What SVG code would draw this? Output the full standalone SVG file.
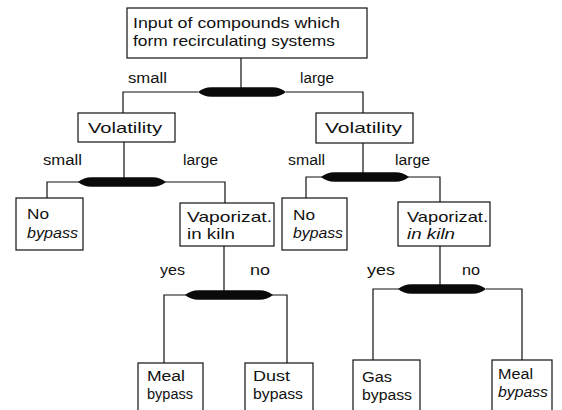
<svg xmlns="http://www.w3.org/2000/svg" width="562" height="410" viewBox="0 0 562 410">
<style>
.box{fill:#fff;stroke:#111;stroke-width:1.2}
.ln{fill:none;stroke:#111;stroke-width:1.2}
text{font-family:"Liberation Sans",Arial,sans-serif;font-size:15px;fill:#111}
.lab{font-size:14px}
.sm{font-size:14px}
.it{font-style:italic}
</style>
<defs>
<path id="bar" d="M-44,0 Q-38,-5 -30,-4.8 L30,-4.8 Q38,-5 44,0 Q38,5 30,4.8 L-30,4.8 Q-38,5 -44,0 Z" fill="#0a0a0a"/>
</defs>
<rect width="562" height="410" fill="#fff"/>
<g id="connectors">
<path class="ln" d="M241,58 V92 M198,92 H123 V113 M286,92 H363 V113"/>
<path class="ln" d="M124,142 V182 M80,182 H47 V198 M164,182 H225 V203"/>
<path class="ln" d="M363,143 V177 M322,177 H306 V198 M408,177 H440 V202"/>
<path class="ln" d="M224,246 V295 M186,295 H164 V363 M272,295 H287 V363"/>
<path class="ln" d="M440,246 V289 M399,289 H373 V360 M486,289 H522 V360"/>
<use href="#bar" x="242" y="92"/>
<use href="#bar" x="122" y="182"/>
<use href="#bar" x="365" y="177"/>
<use href="#bar" x="229" y="295"/>
<use href="#bar" x="442" y="289"/>
<text class="lab" x="128" y="83" textLength="39" lengthAdjust="spacingAndGlyphs">small</text>
<text class="lab" x="300" y="83" textLength="34" lengthAdjust="spacingAndGlyphs">large</text>
<text class="lab" x="43" y="165" textLength="39" lengthAdjust="spacingAndGlyphs">small</text>
<text class="lab" x="183" y="165" textLength="35" lengthAdjust="spacingAndGlyphs">large</text>
<text class="lab" x="288" y="165" textLength="37" lengthAdjust="spacingAndGlyphs">small</text>
<text class="lab" x="395" y="165" textLength="35" lengthAdjust="spacingAndGlyphs">large</text>
<text class="lab" x="160" y="275" textLength="25" lengthAdjust="spacingAndGlyphs">yes</text>
<text class="lab" x="250" y="275" textLength="20" lengthAdjust="spacingAndGlyphs">no</text>
<text class="lab" x="367" y="275" textLength="28" lengthAdjust="spacingAndGlyphs">yes</text>
<text class="lab" x="462" y="275" textLength="18" lengthAdjust="spacingAndGlyphs">no</text>
</g>
<g id="input">
<rect class="box" x="127" y="8" width="240" height="50"/>
<text x="133" y="28" textLength="207" lengthAdjust="spacingAndGlyphs">Input of compounds which</text>
<text x="133" y="46" textLength="202" lengthAdjust="spacingAndGlyphs">form recirculating systems</text>
</g>
<g id="volatility-left">
<rect class="box" x="78" y="113" width="97" height="29"/>
<text x="88" y="133" textLength="74" lengthAdjust="spacingAndGlyphs">Volatility</text>
</g>
<g id="volatility-right">
<rect class="box" x="316" y="113" width="97" height="30"/>
<text x="325" y="133" textLength="77" lengthAdjust="spacingAndGlyphs">Volatility</text>
</g>
<g id="nobypass-left">
<rect class="box" x="16" y="198" width="67" height="52"/>
<text x="27" y="219" textLength="22" lengthAdjust="spacingAndGlyphs">No</text>
<text class="it" x="27" y="238" textLength="51" lengthAdjust="spacingAndGlyphs">bypass</text>
</g>
<g id="vapor-left">
<rect class="box" x="180" y="203" width="94" height="43"/>
<text x="187" y="222" textLength="85" lengthAdjust="spacingAndGlyphs">Vaporizat.</text>
<text x="187" y="239" textLength="48" lengthAdjust="spacingAndGlyphs">in kiln</text>
</g>
<g id="nobypass-right">
<rect class="box" x="282" y="198" width="65" height="52"/>
<text x="293" y="220" textLength="22" lengthAdjust="spacingAndGlyphs">No</text>
<text class="it" x="293" y="238" textLength="50" lengthAdjust="spacingAndGlyphs">bypass</text>
</g>
<g id="vapor-right">
<rect class="box" x="398" y="202" width="92" height="44"/>
<text x="407" y="222" textLength="81" lengthAdjust="spacingAndGlyphs">Vaporizat.</text>
<text class="it" x="407" y="239" textLength="48" lengthAdjust="spacingAndGlyphs">in kiln</text>
</g>
<g id="meal-left">
<rect class="box" x="138" y="363" width="65" height="52"/>
<text class="sm" x="147" y="381" textLength="38" lengthAdjust="spacingAndGlyphs">Meal</text>
<text class="sm" x="147" y="399" textLength="46" lengthAdjust="spacingAndGlyphs">bypass</text>
</g>
<g id="dust">
<rect class="box" x="245" y="363" width="68" height="52"/>
<text class="sm" x="253" y="381" textLength="37" lengthAdjust="spacingAndGlyphs">Dust</text>
<text class="sm" x="253" y="399" textLength="50" lengthAdjust="spacingAndGlyphs">bypass</text>
</g>
<g id="gas">
<rect class="box" x="353" y="360" width="67" height="55"/>
<text class="sm" x="362" y="382" textLength="30" lengthAdjust="spacingAndGlyphs">Gas</text>
<text class="sm" x="362" y="400" textLength="50" lengthAdjust="spacingAndGlyphs">bypass</text>
</g>
<g id="meal-right">
<rect class="box" x="492" y="360" width="60" height="55"/>
<text class="sm" x="498" y="379" textLength="35" lengthAdjust="spacingAndGlyphs">Meal</text>
<text class="sm it" x="498" y="397" textLength="50" lengthAdjust="spacingAndGlyphs">bypass</text>
</g>
</svg>
